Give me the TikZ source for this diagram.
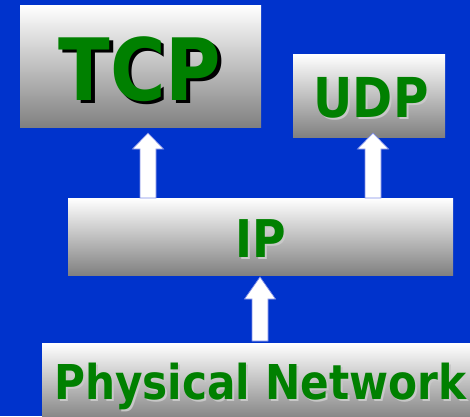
\documentclass[tikz,border=0pt]{standalone}
\usepackage{fontspec}
\usepackage{graphicx}
\setmainfont{DejaVu Sans}
\usetikzlibrary{calc}
\definecolor{bgblue}{RGB}{0,51,204}
\definecolor{txtgreen}{RGB}{0,128,0}
\definecolor{arrowedge}{RGB}{125,140,230}
\definecolor{boxbottom}{RGB}{128,128,128}
\definecolor{lightshadow}{RGB}{200,200,200}
\tikzset{
  layerbox/.style={rectangle, anchor=north west, inner sep=0pt, top color=white, bottom color=boxbottom, draw=none},
  lbl/.style={anchor=base, inner sep=0pt, text=txtgreen, font=\bfseries},
  blockarrow/.style={fill=white, draw=arrowedge, line width=0.7pt, line join=miter},
}
\newcommand\hsq[1]{\scalebox{0.88}[1]{#1}}
% shadowed text: #1 shadow colour, #2 x offset, #3 y offset (down), #4 text
\newcommand\shtext[4]{\makebox[0pt][l]{\hspace*{#2}\raisebox{-#3}[0pt][0pt]{\textcolor{#1}{\hsq{#4}}}}\hsq{#4}}
% #1 base coordinate, #2 tip coordinate, #3 head length
\newcommand\blockup[3]{%
  \draw[blockarrow] ($(#1)+(-8,0)$) -- ($(#2)+(-8,#3)$) -- ($(#2)+(-15.5,#3)$) -- (#2)
    -- ($(#2)+(15.5,#3)$) -- ($(#2)+(8,#3)$) -- ($(#1)+(8,0)$) -- cycle;}
\begin{document}
\begin{tikzpicture}[x=1pt,y=-1pt]
\useasboundingbox (0,0) rectangle (470,416);
\fill[bgblue] (0,0) rectangle (470,416);

% layer boxes
\node[layerbox, minimum width=241pt, minimum height=122pt] (tcp) at (20,5) {};
\node[layerbox, minimum width=152pt, minimum height=83pt] (udp) at (293,54) {};
\node[layerbox, minimum width=385pt, minimum height=77pt] (ip) at (68,198) {};
\node[layerbox, minimum width=440pt, minimum height=78pt] (phys) at (42,343) {};

% labels with shadows
\node[lbl] (tcplbl) at (140,100) {\fontsize{86}{86}\selectfont\shtext{black}{3.5pt}{3.5pt}{TCP}};
\node[lbl] (udplbl) at (371,117) {\fontsize{55}{55}\selectfont\shtext{lightshadow}{2pt}{2pt}{UDP}};
\node[lbl] (iplbl) at (260.5,257) {\fontsize{52}{52}\selectfont\shtext{lightshadow}{2pt}{2pt}{IP}};
\node[lbl, anchor=base west] (physlbl) at (54,399) {\fontsize{48}{48}\selectfont\shtext{lightshadow}{2pt}{2pt}{Physical Network}};

% arrow end points
\coordinate (a1b) at (148,198);
\coordinate (a1t) at (148,133);
\coordinate (a2b) at (373,198);
\coordinate (a2t) at (373,133);
\coordinate (a3b) at (260,341);
\coordinate (a3t) at (260,277);

\blockup{a1b}{a1t}{16}
\blockup{a2b}{a2t}{16}
\blockup{a3b}{a3t}{22}
\end{tikzpicture}
\end{document}
